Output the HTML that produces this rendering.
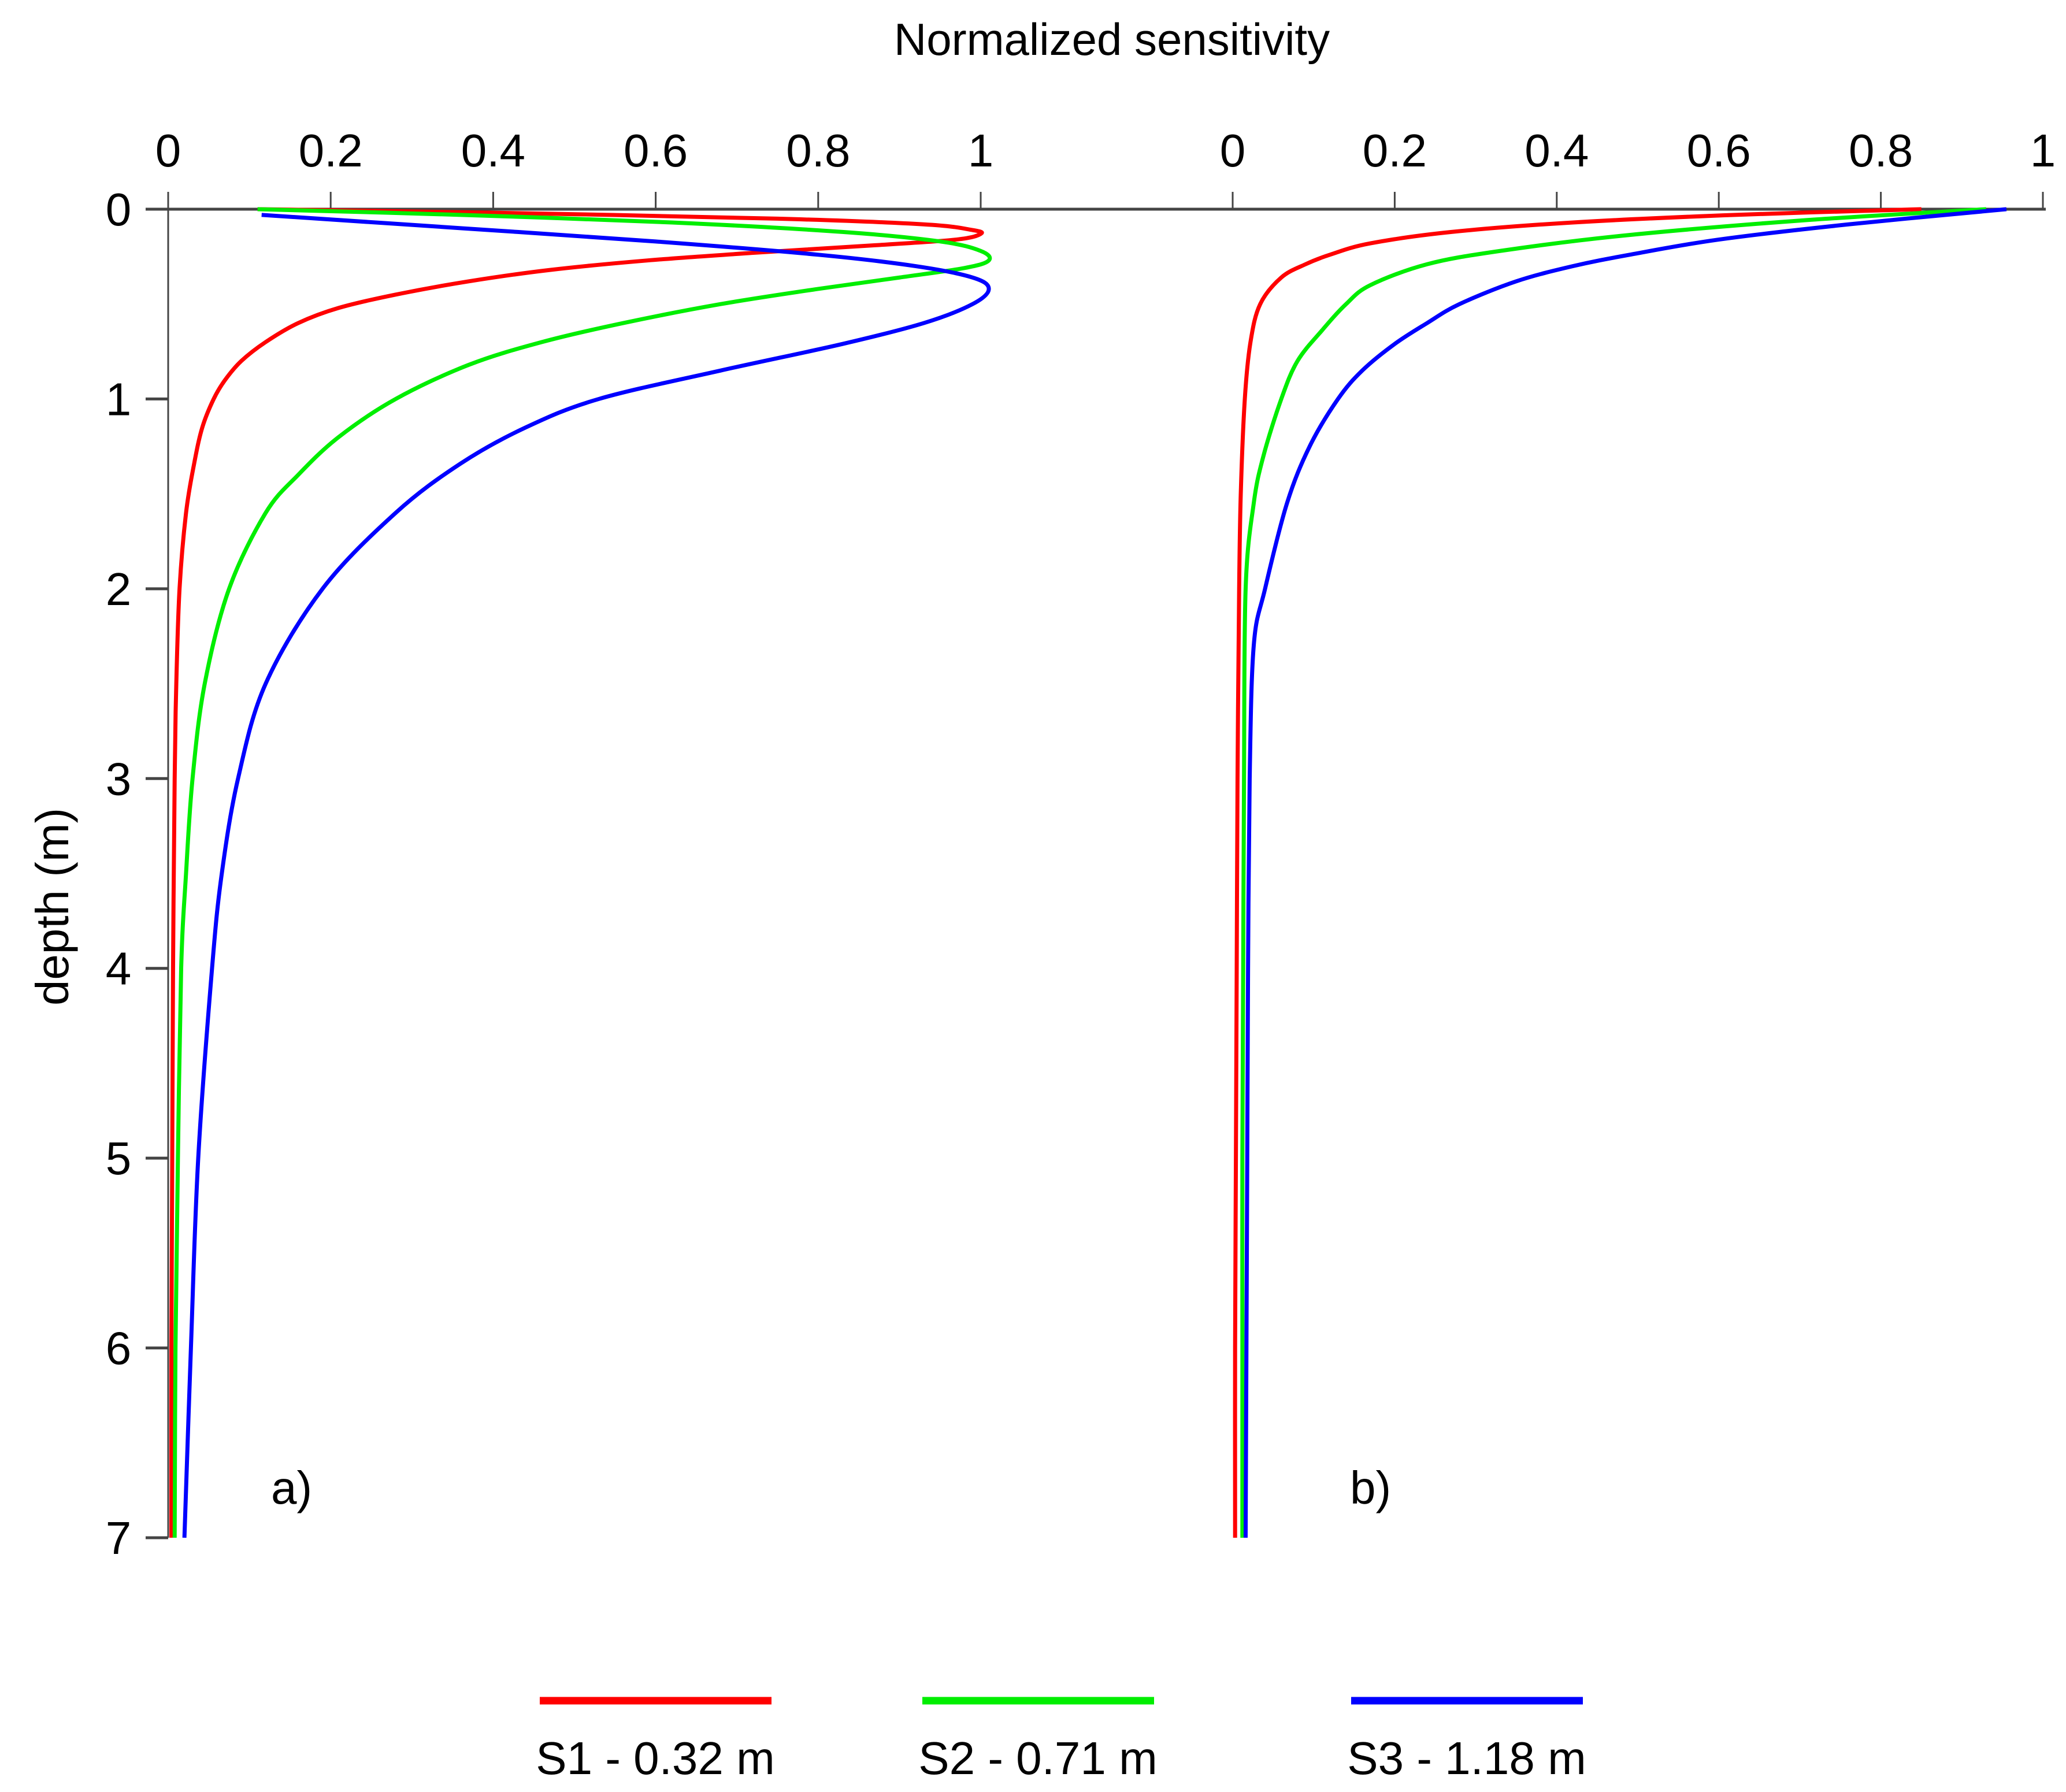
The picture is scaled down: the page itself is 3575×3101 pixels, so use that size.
<!DOCTYPE html>
<html><head><meta charset="utf-8"><style>
html,body{margin:0;padding:0;background:#fff;}
svg{display:block;font-family:"Liberation Sans",sans-serif;}
</style></head><body>
<svg id="chart" width="3575" height="3101" viewBox="0 0 3575 3101" xmlns="http://www.w3.org/2000/svg">
<rect width="3575" height="3101" fill="#fff"/>
<text x="1924" y="95" font-size="78" text-anchor="middle">Normalized sensitivity</text>
<text transform="translate(118,1569) rotate(-90)" font-size="80" text-anchor="middle">depth (m)</text>
<g id="axes"></g>
<g id="series"></g>
<text x="469" y="2602" font-size="80">a)</text>
<text x="2336" y="2602" font-size="80">b)</text>
<g id="legend"></g>
</svg>
<script>
const depthTicks = [0,1,2,3,4,5,6,7];
const xTicks = [0,0.2,0.4,0.6,0.8,1];
const xTickLabels = ["0","0.2","0.4","0.6","0.8","1"];
const seriesNames = ["S1 - 0.32 m","S2 - 0.71 m","S3 - 1.18 m"];
const seriesColors = ["#ff0000","#00ee00","#0000ff"];
// panel a
const aRedDepth = [0,0.02,0.05,0.08,0.11,0.13,0.16,0.19,0.23,0.27,0.32,0.38,0.45,0.52,0.6,0.7,0.8,0.9,1.0,1.15,1.34,1.6,2.0,2.5,3,4,5,6,7];
const aRedVal   = [0.11,0.42,0.75,0.93,0.99,1.0,0.97,0.87,0.72,0.59,0.47,0.37,0.28,0.21,0.16,0.12,0.09,0.07,0.056,0.042,0.032,0.022,0.014,0.01,0.008,0.006,0.005,0.004,0.004];
const aGreenDepth = [0,0.03,0.07,0.12,0.17,0.22,0.27,0.31,0.36,0.42,0.5,0.6,0.7,0.82,1.0,1.2,1.4,1.6,2.0,2.5,3,3.5,4,5,6,7];
const aGreenVal   = [0.11,0.36,0.62,0.83,0.95,1.0,1.01,0.98,0.9,0.8,0.68,0.56,0.46,0.37,0.28,0.21,0.16,0.12,0.075,0.045,0.03,0.022,0.016,0.012,0.009,0.008];
const aBlueDepth = [0.03,0.1,0.17,0.24,0.3,0.36,0.42,0.5,0.6,0.71,0.85,1.0,1.15,1.34,1.6,2.0,2.5,3,3.5,4,5,6,7];
const aBlueVal   = [0.115,0.36,0.6,0.8,0.92,0.99,1.01,0.99,0.93,0.83,0.68,0.53,0.44,0.36,0.28,0.19,0.12,0.086,0.066,0.054,0.037,0.028,0.02];
// panel b
const bRedDepth = [0,0.03,0.07,0.12,0.18,0.24,0.29,0.36,0.5,0.7,1.0,1.5,2,3,4,5,6,7];
const bRedVal   = [0.85,0.62,0.42,0.27,0.17,0.12,0.09,0.06,0.034,0.022,0.015,0.01,0.008,0.006,0.005,0.004,0.003,0.003];
const bGreenDepth = [0,0.06,0.14,0.22,0.29,0.4,0.5,0.64,0.8,1.0,1.3,1.55,2,3,4,5,6,7];
const bGreenVal   = [0.93,0.7,0.48,0.33,0.24,0.17,0.14,0.11,0.08,0.06,0.038,0.026,0.016,0.014,0.013,0.012,0.012,0.012];
const bBlueDepth = [0,0.08,0.16,0.24,0.3,0.38,0.5,0.6,0.71,0.85,1.0,1.25,1.55,2.0,2.3,3,4,5,6,7];
const bBlueVal   = [0.955,0.76,0.6,0.49,0.42,0.35,0.28,0.24,0.2,0.16,0.13,0.095,0.067,0.04,0.026,0.021,0.019,0.018,0.017,0.016];

const NS="http://www.w3.org/2000/svg";
const Y0=362, Y7=2661;
const yScale = d => Y0 + d*(Y7-Y0)/7;
const panels = [{x0:291,x1:1697},{x0:2133,x1:3535}];
const xScale = (p,v) => panels[p].x0 + v*(panels[p].x1-panels[p].x0);
function mk(tag, attrs, parent){const e=document.createElementNS(NS,tag);for(const k in attrs)e.setAttribute(k,attrs[k]);parent.appendChild(e);return e;}
const axes=document.getElementById('axes');
let e;
e=mk('line',{x1:252,y1:Y0,x2:3540,y2:Y0,stroke:'#444',"stroke-width":5},axes);


e=mk('line',{x1:291,y1:Y0,x2:291,y2:Y7,stroke:'#444',"stroke-width":3},axes);


depthTicks.forEach(d=>{
  const t=mk('line',{x1:252,y1:yScale(d),x2:291,y2:yScale(d),stroke:'#444',"stroke-width":5},axes);
  
  
  const l=mk('text',{x:205,y:yScale(d)+28,"font-size":80,"text-anchor":"middle"},axes);
  
  
  l.textContent=d;
});
[0,1].forEach(p=>{
  xTicks.forEach((v,i)=>{
    const x=xScale(p,v);
    const t=mk('line',{x1:x,y1:332,x2:x,y2:Y0,stroke:'#444',"stroke-width":3},axes);
    
    
    const l=mk('text',{x:x,y:288,"font-size":80,"text-anchor":"middle"},axes);
    
    
    l.textContent=xTickLabels[i];
  });
});
function smoothPath(pts){
  let d=`M${pts[0][0]},${pts[0][1]}`;
  for(let i=0;i<pts.length-1;i++){
    const p0=pts[Math.max(0,i-1)],p1=pts[i],p2=pts[i+1],p3=pts[Math.min(pts.length-1,i+2)];
    const c1=[p1[0]+(p2[0]-p0[0])/6,p1[1]+(p2[1]-p0[1])/6];
    const c2=[p2[0]-(p3[0]-p1[0])/6,p2[1]-(p3[1]-p1[1])/6];
    d+=` C${c1[0]},${c1[1]} ${c2[0]},${c2[1]} ${p2[0]},${p2[1]}`;
  }
  return d;
}
const sg=document.getElementById('series');
const defs=[[0,aRedDepth,aRedVal,0,'a-s1'],[0,aGreenDepth,aGreenVal,1,'a-s2'],[0,aBlueDepth,aBlueVal,2,'a-s3'],
            [1,bRedDepth,bRedVal,0,'b-s1'],[1,bGreenDepth,bGreenVal,1,'b-s2'],[1,bBlueDepth,bBlueVal,2,'b-s3']];
defs.forEach(([p,ds,vs,c,n])=>{
  const pts=ds.map((d,i)=>[xScale(p,vs[i]),yScale(d)]);
  const path=mk('path',{d:smoothPath(pts),fill:'none',stroke:seriesColors[c],"stroke-width":7,"stroke-linejoin":"round"},sg);
  
  
});
const lg=document.getElementById('legend');
const legX=[934,1596,2338];
seriesNames.forEach((s,i)=>{
  const l=mk('line',{x1:legX[i],y1:2943,x2:legX[i]+401,y2:2943,stroke:seriesColors[i],"stroke-width":13},lg);
  
  
  const t=mk('text',{x:legX[i]+200,y:3070,"font-size":80,"text-anchor":"middle"},lg);
  
  
  t.textContent=s;
});
</script>
</body></html>
